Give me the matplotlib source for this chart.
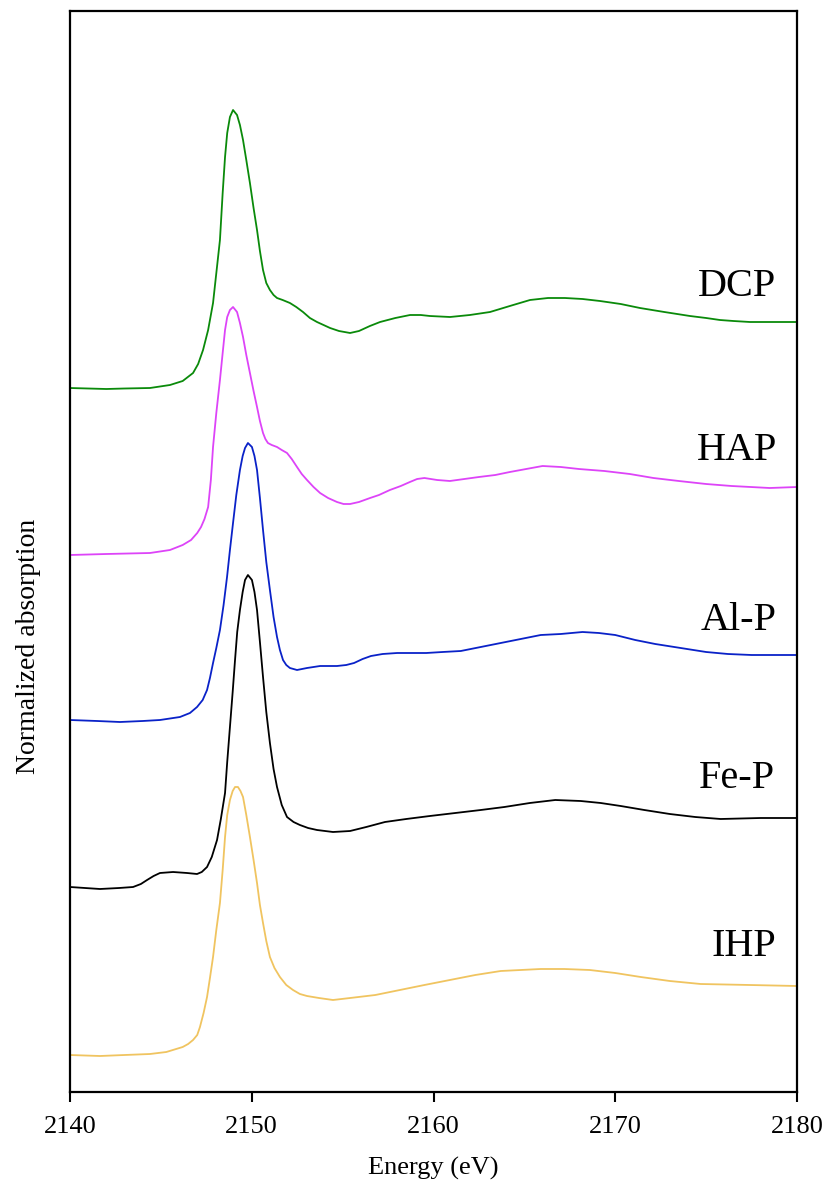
import matplotlib
matplotlib.use("Agg")
import matplotlib.pyplot as plt

plt.rcParams['font.family'] = ['Liberation Serif', 'DejaVu Serif']

# ---- data (energy in eV, normalized absorption relative to pre-edge) ----
dcp_e = [2140.0, 2141.0, 2142.0, 2143.0, 2144.4, 2145.5, 2146.2, 2146.77, 2147.05, 2147.32,
         2147.6, 2147.87, 2148.25, 2148.4, 2148.53, 2148.65, 2148.8, 2148.97, 2149.19, 2149.35,
         2149.52, 2149.7, 2149.9, 2150.1, 2150.29, 2150.45, 2150.62, 2150.8, 2151.0, 2151.2,
         2151.39, 2151.7, 2152.1, 2152.45, 2152.82, 2153.2, 2153.59, 2153.95, 2154.31, 2154.8,
         2155.41, 2155.9, 2156.5, 2157.06, 2157.9, 2158.71, 2159.3, 2159.8, 2160.91, 2162.0,
         2163.11, 2164.2, 2165.31, 2166.3, 2167.23, 2168.2, 2169.16, 2170.3, 2171.36, 2172.7,
         2174.11, 2175.0, 2175.76, 2176.5, 2177.41, 2178.7, 2180.0]
dcp_y = [0.0, -0.005, -0.01, -0.005, 0.0, 0.03, 0.07, 0.15, 0.24, 0.38,
         0.58, 0.85, 1.48, 1.95, 2.31, 2.55, 2.71, 2.78, 2.73, 2.63,
         2.48, 2.28, 2.05, 1.8, 1.58, 1.37, 1.18, 1.05, 0.98, 0.93,
         0.9, 0.88, 0.85, 0.81, 0.76, 0.7, 0.66, 0.63, 0.6, 0.57,
         0.55, 0.57, 0.62, 0.66, 0.7, 0.73, 0.73, 0.72, 0.71, 0.73,
         0.76, 0.82, 0.88, 0.9, 0.9, 0.89, 0.87, 0.84, 0.8, 0.76,
         0.72, 0.7, 0.68, 0.67, 0.66, 0.66, 0.66]

hap_e = [2140.0, 2142.0, 2144.4, 2145.5, 2146.2, 2146.66, 2147.0, 2147.21, 2147.4, 2147.6,
         2147.75, 2147.87, 2148.05, 2148.25, 2148.4, 2148.53, 2148.65, 2148.8, 2148.97, 2149.19,
         2149.35, 2149.52, 2149.7, 2149.9, 2150.1, 2150.29, 2150.45, 2150.62, 2150.75, 2150.89,
         2151.1, 2151.39, 2151.65, 2151.94, 2152.2, 2152.49, 2152.75, 2153.04, 2153.4, 2153.76,
         2154.2, 2154.69, 2155.05, 2155.41, 2155.9, 2156.51, 2157.0, 2157.6, 2158.2, 2158.7,
         2159.1, 2159.5, 2160.2, 2160.9, 2161.7, 2162.5, 2163.4, 2164.2, 2165.1, 2166.0,
         2167.0, 2168.0, 2169.4, 2170.8, 2172.1, 2173.5, 2175.0, 2176.4, 2178.5, 2180.0]
hap_y = [0.0, 0.01, 0.02, 0.05, 0.1, 0.15, 0.22, 0.28, 0.36, 0.48,
         0.75, 1.08, 1.42, 1.75, 2.02, 2.25, 2.38, 2.45, 2.48, 2.43,
         2.32, 2.18, 2.0, 1.82, 1.64, 1.48, 1.34, 1.22, 1.16, 1.12,
         1.1, 1.08, 1.05, 1.02, 0.96, 0.88, 0.81, 0.75, 0.68, 0.62,
         0.57, 0.53, 0.51, 0.51, 0.53, 0.57, 0.6, 0.65, 0.69, 0.73,
         0.76, 0.77, 0.75, 0.74, 0.76, 0.78, 0.8, 0.83, 0.86, 0.89,
         0.88, 0.86, 0.84, 0.81, 0.77, 0.74, 0.71, 0.69, 0.67, 0.68]

alp_e = [2140.0, 2141.5, 2142.75, 2144.0, 2144.95, 2146.05, 2146.6, 2146.99, 2147.3, 2147.54,
         2147.7, 2147.87, 2148.05, 2148.25, 2148.45, 2148.64, 2148.8, 2148.97, 2149.15, 2149.35,
         2149.5, 2149.63, 2149.79, 2150.01, 2150.15, 2150.29, 2150.45, 2150.62, 2150.8, 2151.0,
         2151.2, 2151.39, 2151.55, 2151.72, 2151.9, 2152.1, 2152.49, 2153.04, 2153.76, 2154.69,
         2155.2, 2155.63, 2156.1, 2156.56, 2157.2, 2158.0, 2159.6, 2160.5, 2161.5, 2162.6,
         2163.7, 2164.8, 2165.9, 2167.0, 2168.2, 2169.1, 2170.0, 2171.1, 2172.2, 2173.6,
         2175.0, 2176.2, 2177.5, 2180.0]
alp_y = [0.0, -0.01, -0.02, -0.01, 0.0, 0.03, 0.07, 0.13, 0.2, 0.3,
         0.42, 0.57, 0.72, 0.9, 1.15, 1.43, 1.7, 1.97, 2.25, 2.5,
         2.64, 2.72, 2.77, 2.73, 2.64, 2.5, 2.22, 1.9, 1.58, 1.3,
         1.03, 0.83, 0.7, 0.6, 0.55, 0.52, 0.5, 0.52, 0.54, 0.54,
         0.55, 0.57, 0.61, 0.64, 0.66, 0.67, 0.67, 0.68, 0.69, 0.73,
         0.77, 0.81, 0.85, 0.86, 0.88, 0.87, 0.85, 0.8, 0.76, 0.72,
         0.68, 0.66, 0.65, 0.65]

fep_e = [2140.0, 2141.65, 2142.7, 2143.47, 2143.9, 2144.24, 2144.6, 2144.95, 2145.67, 2146.44,
         2146.99, 2147.25, 2147.54, 2147.8, 2148.09, 2148.3, 2148.53, 2148.65, 2148.8, 2148.95,
         2149.08, 2149.2, 2149.35, 2149.5, 2149.63, 2149.79, 2150.01, 2150.15, 2150.29, 2150.45,
         2150.62, 2150.8, 2151.0, 2151.2, 2151.39, 2151.65, 2151.94, 2152.3, 2152.65, 2153.1,
         2153.59, 2154.47, 2155.41, 2156.3, 2157.33, 2158.5, 2159.8, 2161.2, 2162.6, 2163.9,
         2165.3, 2166.7, 2168.1, 2169.2, 2170.3, 2171.6, 2173.0, 2174.4, 2175.8, 2178.0,
         2180.0]
fep_y = [0.0, -0.02, -0.01, 0.0, 0.03, 0.07, 0.11, 0.14, 0.15, 0.14,
         0.13, 0.15, 0.2, 0.3, 0.47, 0.68, 0.94, 1.25, 1.6, 1.95,
         2.27, 2.55, 2.77, 2.95, 3.07, 3.12, 3.07, 2.95, 2.77, 2.45,
         2.1, 1.75, 1.44, 1.18, 1.0, 0.82, 0.7, 0.65, 0.62, 0.59,
         0.57, 0.55, 0.56, 0.6, 0.65, 0.68, 0.71, 0.74, 0.77, 0.8,
         0.84, 0.87, 0.86, 0.84, 0.81, 0.77, 0.73, 0.7, 0.68, 0.69,
         0.69]

ihp_e = [2140.0, 2141.65, 2143.0, 2144.4, 2145.3, 2146.2, 2146.5, 2146.77, 2147.0, 2147.15,
         2147.35, 2147.54, 2147.7, 2147.87, 2148.05, 2148.25, 2148.4, 2148.53, 2148.65, 2148.8,
         2148.95, 2149.08, 2149.24, 2149.38, 2149.52, 2149.7, 2149.9, 2150.1, 2150.29, 2150.45,
         2150.62, 2150.8, 2151.0, 2151.25, 2151.55, 2151.9, 2152.27, 2152.65, 2153.04, 2153.7,
         2154.47, 2155.41, 2156.8, 2158.15, 2159.5, 2160.9, 2162.3, 2163.7, 2164.8, 2165.9,
         2167.2, 2168.6, 2170.0, 2171.4, 2173.0, 2174.7, 2177.4, 2180.0]
ihp_y = [0.0, -0.01, 0.0, 0.01, 0.03, 0.08, 0.11, 0.15, 0.2, 0.28,
         0.42, 0.58, 0.77, 0.98, 1.25, 1.52, 1.85, 2.18, 2.4, 2.55,
         2.64, 2.68, 2.68, 2.64, 2.58, 2.4, 2.18, 1.95, 1.72, 1.5,
         1.32, 1.14, 0.98, 0.87, 0.78, 0.7, 0.65, 0.61, 0.59, 0.57,
         0.55, 0.57, 0.6, 0.65, 0.7, 0.75, 0.8, 0.84, 0.85, 0.86,
         0.86, 0.85, 0.82, 0.78, 0.74, 0.71, 0.7, 0.69]

names = ["DCP", "HAP", "Al-P", "Fe-P", "IHP"]
offsets = [7.04, 5.37, 3.72, 2.05, 0.37]
x_ticks = [2140, 2150, 2160, 2170, 2180]

series = [(dcp_e, dcp_y), (hap_e, hap_y), (alp_e, alp_y), (fep_e, fep_y), (ihp_e, ihp_y)]
colors = ["#0a8a0a", "#dd44f8", "#0a22c8", "#000000", "#f0c460"]
label_pos = [(2176.7, 8.05), (2176.7, 6.41), (2176.8, 4.71), (2176.7, 3.13), (2177.1, 1.46)]

fig = plt.figure(figsize=(8.32, 11.84), dpi=100)
ax = fig.add_axes([70/832, 92/1184, 727/832, 1081/1184])

for (e, y), off, c, name, (lx, ly) in zip(series, offsets, colors, names, label_pos):
    ax.plot(e, [v + off for v in y], color=c, lw=1.3)
    ax.text(lx, ly, name, fontsize=29, ha='center', va='center')

ax.set_xlim(2140, 2180)
ax.set_ylim(0, 10.81)
ax.set_xticks(x_ticks)
ax.set_xticklabels([str(t) for t in x_ticks])
ax.set_yticks([])
ax.tick_params(axis='x', direction='out', length=7, width=1.5, labelsize=19, pad=10)
for s in ax.spines.values():
    s.set_linewidth(1.6)
ax.set_xlabel("Energy (eV)", fontsize=19)
ax.xaxis.set_label_coords(0.5, -0.060)
ax.set_ylabel("Normalized absorption", fontsize=20)
ax.yaxis.set_label_coords(-0.040, 0.4126)

fig.savefig("out.png", dpi=100)
